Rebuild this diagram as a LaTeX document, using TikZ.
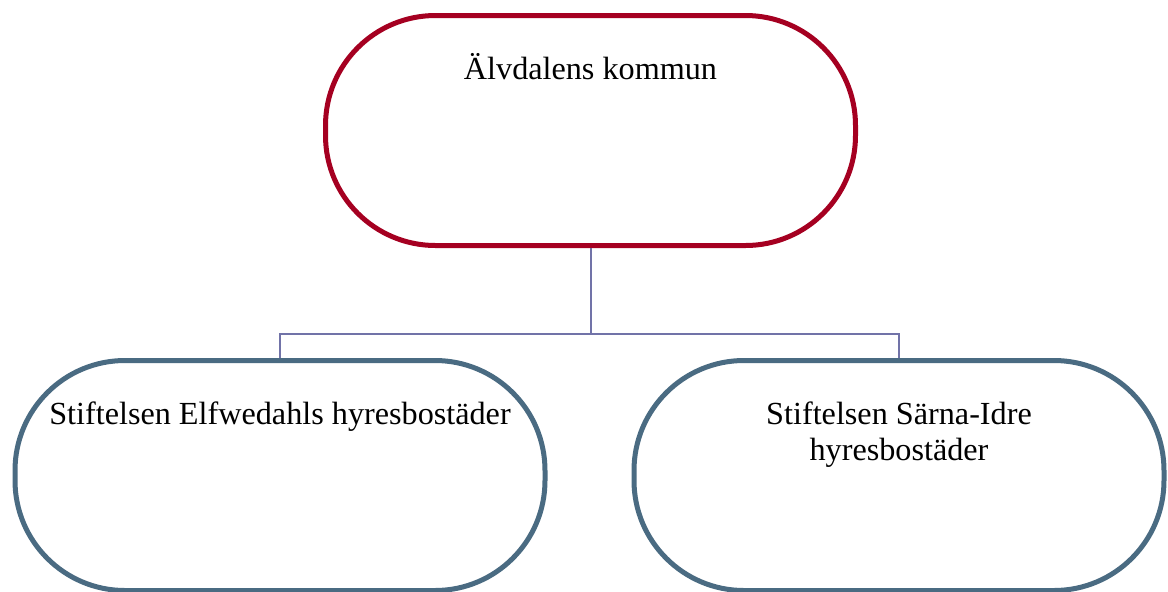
\documentclass[tikz,border=0pt]{standalone}
\usepackage{fontspec}
\setmainfont{Liberation Serif}
\usetikzlibrary{positioning}
\definecolor{kommunred}{HTML}{A50021}
\definecolor{stiftblue}{HTML}{4A6B82}
\definecolor{linkviolet}{HTML}{7173A8}
\tikzset{
	orgbox/.style={draw, line width=2.5pt, rounded corners=55pt, minimum width=265pt, minimum height=115pt, fill=white},
	orgtext/.style={anchor=base, align=center, font=\fontsize{16.1}{18}\selectfont},
	orglink/.style={draw=linkviolet, line width=1pt}
}
\begin{document}
\begin{tikzpicture}[x=0.5pt, y=-0.5pt]
	\useasboundingbox (0,0) rectangle (1168,591);
	\node[orgbox, draw=kommunred] (kommun) at (590.5, 130.5) {};
	\node[orgbox, draw=stiftblue] (elfwedahl) at (280, 475.5) {};
	\node[orgbox, draw=stiftblue] (sarna) at (899, 475.5) {};
	\node[orgtext] (kommuntext) at ([yshift=-33.25pt]kommun.north) {Älvdalens kommun};
	\node[orgtext] (elfwedahltext) at ([yshift=-33.25pt]elfwedahl.north) {Stiftelsen Elfwedahls hyresbostäder};
	% base of a two-line node sits on its last line
	\node[orgtext] (sarnatext) at ([yshift=-51.25pt]sarna.north) {Stiftelsen Särna-Idre\\hyresbostäder};
	\coordinate (fork) at (590.5, 334);
	\draw[orglink] (kommun.south) -- (fork);
	\draw[orglink] (fork) -| (elfwedahl.north);
	\draw[orglink] (fork) -| (sarna.north);
\end{tikzpicture}
\end{document}
